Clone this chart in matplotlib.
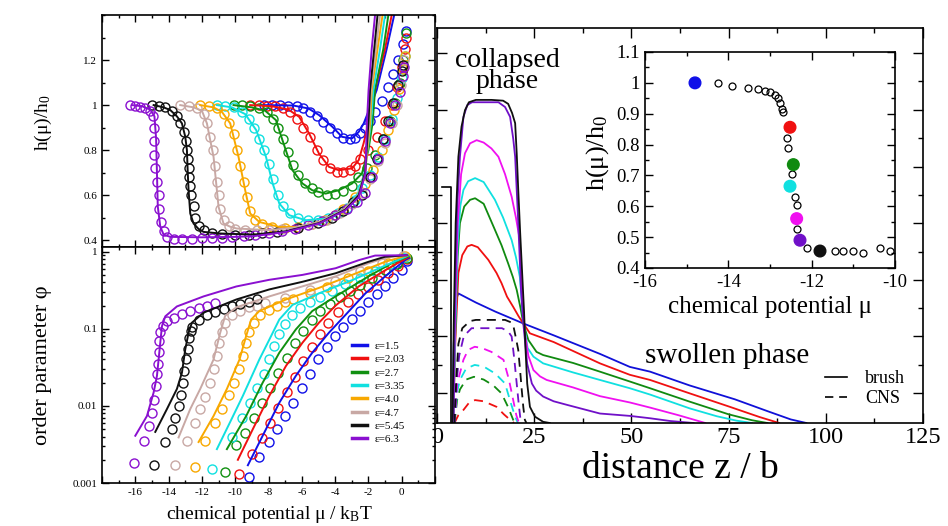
import numpy as np
import matplotlib
matplotlib.use("Agg")
import matplotlib.pyplot as plt
from matplotlib.lines import Line2D
from matplotlib.ticker import MultipleLocator, FixedLocator, FuncFormatter, LogLocator, NullFormatter

plt.rcParams['font.family'] = ['Liberation Serif', 'DejaVu Serif']
plt.rcParams['mathtext.fontset'] = 'custom'
plt.rcParams['mathtext.rm'] = 'Liberation Serif'
plt.rcParams['mathtext.it'] = 'Liberation Serif:italic'
plt.rcParams['axes.unicode_minus'] = False

# ---------------- data ----------------
eps_labels = ['ε=1.5', 'ε=2.03', 'ε=2.7', 'ε=3.35', 'ε=4.0', 'ε=4.7', 'ε=5.45', 'ε=6.3']
eps_colors = ['#1010e8', '#f01010', '#109010', '#10e0e0', '#f8a800', '#c8a8a4', '#101010', '#8a10d0']

# top-left panel: h(mu)/h0, theory lines
h_lines = [
    [(-8.3, 1.0), (-6.5, 0.998), (-5.6, 0.985), (-4.97, 0.956), (-4.17, 0.904), (-3.58, 0.859), (-2.98, 0.852),
     (-2.58, 0.881), (-2.28, 0.919), (-1.9, 0.99), (-1.5, 1.067), (-0.9, 1.25), (-0.45, 1.4)],
    [(-9.1, 1.0), (-7.8, 0.995), (-6.8, 0.98), (-6.16, 0.948), (-5.56, 0.874), (-4.97, 0.785), (-4.37, 0.726),
     (-3.78, 0.711), (-2.98, 0.719), (-2.58, 0.756), (-2.29, 0.83), (-1.9, 0.95), (-1.6, 1.067), (-1.0, 1.25), (-0.6, 1.4)],
    [(-10.1, 1.0), (-9.0, 0.99), (-8.2, 0.975), (-7.55, 0.933), (-7.16, 0.844), (-6.56, 0.711), (-5.96, 0.652),
     (-5.37, 0.622), (-4.57, 0.607), (-3.78, 0.622), (-2.98, 0.652), (-2.39, 0.696), (-2.0, 0.8), (-1.75, 0.92),
     (-1.6, 1.067), (-1.1, 1.25), (-0.8, 1.4)],
    [(-11.1, 1.0), (-10.2, 0.99), (-9.4, 0.96), (-8.74, 0.889), (-8.15, 0.77), (-7.75, 0.652), (-7.35, 0.563),
     (-6.75, 0.511), (-5.76, 0.489), (-4.57, 0.496), (-3.4, 0.54), (-2.6, 0.61), (-2.2, 0.71), (-1.85, 0.92),
     (-1.7, 1.067), (-1.3, 1.25), (-1.0, 1.4)],
    [(-12.1, 1.0), (-11.3, 0.99), (-10.8, 0.97), (-10.3, 0.919), (-9.8, 0.77), (-9.4, 0.622), (-9.1, 0.519),
     (-8.55, 0.481), (-7.35, 0.459), (-6.0, 0.46), (-4.5, 0.49), (-3.4, 0.54), (-2.6, 0.6), (-2.2, 0.7),
     (-1.9, 0.92), (-1.8, 1.067), (-1.45, 1.25), (-1.15, 1.4)],
    [(-13.3, 1.0), (-12.5, 0.99), (-12.0, 0.975), (-11.7, 0.919), (-11.3, 0.77), (-11.0, 0.548), (-10.7, 0.474),
     (-10.3, 0.46), (-9.9, 0.452), (-8.0, 0.445), (-6.5, 0.455), (-5.0, 0.48), (-3.5, 0.535), (-2.6, 0.6),
     (-2.2, 0.7), (-1.95, 0.92), (-1.85, 1.067), (-1.55, 1.25), (-1.3, 1.4)],
    [(-14.9, 1.0), (-14.3, 0.99), (-13.9, 0.978), (-13.5, 0.95), (-13.2, 0.919), (-13.0, 0.86), (-12.9, 0.8),
     (-12.85, 0.7), (-12.8, 0.622), (-12.7, 0.519), (-12.5, 0.474), (-12.2, 0.45), (-11.9, 0.437), (-10.9, 0.43),
     (-8.9, 0.425), (-6.95, 0.44), (-4.97, 0.476), (-3.38, 0.536), (-2.58, 0.6), (-2.2, 0.7), (-2.0, 0.92),
     (-1.9, 1.067), (-1.65, 1.25), (-1.45, 1.4)],
    [(-16.2, 1.0), (-15.6, 0.995), (-15.1, 0.98), (-14.85, 0.95), (-14.75, 0.85), (-14.7, 0.7), (-14.65, 0.55),
     (-14.5, 0.46), (-14.3, 0.425), (-13.9, 0.415), (-12.0, 0.413), (-10.0, 0.415), (-8.9, 0.418), (-6.95, 0.437),
     (-4.97, 0.474), (-3.38, 0.533), (-2.58, 0.592), (-2.18, 0.696), (-2.09, 0.92), (-1.99, 1.067), (-1.8, 1.25),
     (-1.6, 1.4)],
]

# top-left panel: simulation circles
h_points = [
    [(-8.3, 1.0), (-7.8, 1.0), (-7.3, 1.0), (-6.8, 0.998), (-6.3, 0.995), (-5.9, 0.985), (-5.5, 0.97), (-5.1, 0.95),
     (-4.7, 0.925), (-4.3, 0.9), (-3.9, 0.875), (-3.5, 0.855), (-3.1, 0.848), (-2.8, 0.855), (-2.5, 0.875),
     (-2.2, 0.9), (-1.9, 0.93), (-1.6, 0.97), (-1.2, 1.02), (-0.8, 1.08), (-0.5, 1.14), (-0.2, 1.2), (0.05, 1.27),
     (0.25, 1.33)],
    [(-9.1, 1.0), (-8.6, 1.0), (-8.1, 0.998), (-7.6, 0.995), (-7.1, 0.985), (-6.7, 0.97), (-6.3, 0.94), (-5.9, 0.9),
     (-5.5, 0.86), (-5.1, 0.8), (-4.7, 0.755), (-4.3, 0.72), (-3.9, 0.705), (-3.5, 0.703), (-3.1, 0.71),
     (-2.8, 0.73), (-2.5, 0.76), (-2.0, 0.8), (-1.5, 0.86), (-1.0, 0.93), (-0.6, 1.0), (-0.3, 1.08), (0.0, 1.17),
     (0.2, 1.25), (0.25, 1.3)],
    [(-10.1, 1.0), (-9.6, 1.0), (-9.1, 0.995), (-8.6, 0.985), (-8.1, 0.97), (-7.7, 0.94), (-7.4, 0.9), (-7.1, 0.85),
     (-6.8, 0.79), (-6.5, 0.735), (-6.2, 0.69), (-5.8, 0.655), (-5.4, 0.63), (-5.0, 0.612), (-4.5, 0.603),
     (-4.0, 0.605), (-3.5, 0.62), (-3.0, 0.64), (-2.6, 0.68), (-2.1, 0.72), (-1.6, 0.78), (-1.1, 0.85),
     (-0.7, 0.93), (-0.4, 1.01), (-0.1, 1.1), (0.1, 1.2), (0.25, 1.32)],
    [(-11.1, 1.0), (-10.6, 0.998), (-10.1, 0.99), (-9.6, 0.97), (-9.2, 0.94), (-8.9, 0.9), (-8.6, 0.85), (-8.3, 0.8),
     (-8.0, 0.74), (-7.7, 0.67), (-7.4, 0.6), (-7.1, 0.55), (-6.7, 0.52), (-6.2, 0.5), (-5.6, 0.49), (-5.0, 0.49),
     (-4.4, 0.5), (-3.8, 0.52), (-3.3, 0.545), (-2.8, 0.58), (-2.4, 0.63), (-1.9, 0.69), (-1.4, 0.77),
     (-1.0, 0.85), (-0.6, 0.94), (-0.3, 1.03), (0.0, 1.12), (0.2, 1.22)],
    [(-12.1, 1.0), (-11.6, 0.998), (-11.1, 0.985), (-10.7, 0.96), (-10.4, 0.92), (-10.1, 0.87), (-9.9, 0.8),
     (-9.7, 0.73), (-9.5, 0.66), (-9.3, 0.59), (-9.1, 0.53), (-8.8, 0.49), (-8.4, 0.47), (-7.8, 0.46), (-7.0, 0.455),
     (-6.2, 0.46), (-5.4, 0.47), (-4.6, 0.49), (-4.0, 0.51), (-3.5, 0.54), (-2.8, 0.59), (-2.2, 0.65),
     (-1.7, 0.71), (-1.2, 0.8), (-0.8, 0.89), (-0.45, 0.98), (-0.15, 1.07), (0.1, 1.16), (0.2, 1.22)],
    [(-13.3, 1.0), (-12.8, 0.995), (-12.3, 0.985), (-11.9, 0.96), (-11.7, 0.92), (-11.5, 0.86), (-11.35, 0.8),
     (-11.2, 0.73), (-11.1, 0.66), (-11.0, 0.6), (-10.9, 0.54), (-10.7, 0.49), (-10.4, 0.465), (-10.0, 0.452),
     (-9.4, 0.447), (-8.7, 0.445), (-8.0, 0.445), (-7.2, 0.448), (-6.3, 0.455), (-5.4, 0.47), (-4.5, 0.49),
     (-3.7, 0.52), (-3.0, 0.56), (-2.4, 0.61), (-1.9, 0.67), (-1.4, 0.75), (-1.0, 0.83), (-0.6, 0.92),
     (-0.3, 1.0), (-0.05, 1.09), (0.15, 1.2)],
    [(-15.0, 1.0), (-14.6, 0.995), (-14.2, 0.99), (-13.8, 0.975), (-13.5, 0.95), (-13.3, 0.92), (-13.1, 0.88),
     (-12.95, 0.84), (-12.9, 0.8), (-12.85, 0.76), (-12.8, 0.72), (-12.75, 0.68), (-12.7, 0.64), (-12.65, 0.6),
     (-12.5, 0.55), (-12.4, 0.5), (-12.2, 0.465), (-11.9, 0.445), (-11.4, 0.432), (-10.8, 0.428), (-10.0, 0.425),
     (-9.2, 0.425), (-8.4, 0.43), (-7.5, 0.437), (-6.2, 0.455), (-5.0, 0.475), (-4.2, 0.5), (-3.5, 0.53),
     (-2.9, 0.57), (-2.4, 0.6), (-1.9, 0.68), (-1.5, 0.76), (-1.1, 0.85), (-0.8, 0.93), (-0.5, 1.01),
     (-0.25, 1.09), (0.0, 1.15), (0.1, 1.18)],
    [(-16.3, 1.0), (-16.0, 0.995), (-15.7, 0.99), (-15.4, 0.985), (-15.1, 0.975), (-14.95, 0.95), (-14.9, 0.9),
     (-14.85, 0.84), (-14.85, 0.78), (-14.8, 0.72), (-14.7, 0.66), (-14.6, 0.6), (-14.55, 0.54), (-14.45, 0.48),
     (-14.3, 0.44), (-14.1, 0.415), (-13.7, 0.405), (-13.2, 0.405), (-12.6, 0.405), (-12.0, 0.408), (-11.4, 0.41),
     (-10.8, 0.412), (-10.2, 0.415), (-9.5, 0.42), (-8.8, 0.425), (-8.0, 0.432), (-7.2, 0.44), (-6.4, 0.452),
     (-5.6, 0.467), (-4.8, 0.485), (-4.0, 0.51), (-3.3, 0.54), (-2.7, 0.57), (-2.2, 0.61), (-1.79, 0.68),
     (-1.4, 0.76), (-1.0, 0.84), (-0.7, 0.92), (-0.4, 1.0), (-0.1, 1.06), (0.1, 1.13), (0.15, 1.17)],
]

# bottom-left panel: order parameter phi, theory lines
phi_lines = [
    [(-9.24, 0.0017), (-8.35, 0.0041), (-7.35, 0.011), (-6.36, 0.0245), (-5.37, 0.049), (-4.37, 0.089),
     (-3.38, 0.151), (-2.18, 0.288), (-0.99, 0.479), (0.2, 0.776), (0.45, 0.83)],
    [(-9.84, 0.002), (-8.94, 0.005), (-7.95, 0.0135), (-6.95, 0.033), (-5.96, 0.066), (-4.97, 0.12), (-3.97, 0.2),
     (-2.58, 0.355), (-0.99, 0.575), (0.4, 0.85)],
    [(-10.5, 0.00275), (-9.34, 0.0074), (-8.35, 0.02), (-7.35, 0.049), (-6.36, 0.098), (-5.37, 0.17),
     (-3.97, 0.263), (-1.99, 0.479), (-0.6, 0.708), (0.4, 0.87)],
    [(-11.1, 0.00275), (-10.3, 0.0062), (-9.54, 0.0135), (-8.55, 0.04), (-7.95, 0.0724), (-7.35, 0.132),
     (-6.56, 0.204), (-4.97, 0.288), (-2.98, 0.427), (-0.99, 0.66), (0.35, 0.88)],
    [(-12.2, 0.0034), (-11.3, 0.0074), (-10.5, 0.0166), (-9.74, 0.04), (-9.34, 0.081), (-9.04, 0.132),
     (-8.55, 0.17), (-6.95, 0.24), (-4.97, 0.339), (-2.98, 0.5), (-0.99, 0.74), (0.3, 0.89)],
    [(-13.4, 0.0039), (-12.7, 0.0091), (-12.1, 0.0166), (-11.3, 0.04), (-10.9, 0.089), (-10.6, 0.148),
     (-9.93, 0.19), (-7.95, 0.263), (-5.96, 0.355), (-3.97, 0.479), (-1.99, 0.708), (-0.8, 0.85), (0.3, 0.9)],
    [(-14.8, 0.0046), (-14.1, 0.0091), (-13.5, 0.0166), (-13.2, 0.0269), (-13.0, 0.054), (-12.8, 0.089),
     (-12.6, 0.12), (-11.9, 0.162), (-9.93, 0.24), (-7.95, 0.324), (-5.96, 0.407), (-3.97, 0.525),
     (-1.99, 0.74), (-1.0, 0.86), (0.3, 0.9)],
    [(-16.0, 0.0041), (-15.3, 0.0074), (-14.9, 0.0149), (-14.7, 0.0245), (-14.6, 0.04), (-14.5, 0.066),
     (-14.4, 0.108), (-14.2, 0.145), (-13.5, 0.195), (-11.9, 0.263), (-9.93, 0.354), (-7.95, 0.432),
     (-5.96, 0.5), (-3.97, 0.61), (-2.58, 0.776), (-1.6, 0.89), (0.3, 0.9)],
]

# bottom-left panel: simulation circles
phi_points = [
    [(-9.2, 0.0012), (-8.6, 0.0022), (-8.0, 0.0034), (-7.5, 0.005), (-7.0, 0.0075), (-6.5, 0.011), (-6.0, 0.017),
     (-5.5, 0.026), (-5.0, 0.04), (-4.5, 0.058), (-4.0, 0.08), (-3.5, 0.105), (-3.0, 0.135), (-2.5, 0.17),
     (-2.0, 0.22), (-1.5, 0.28), (-1.0, 0.36), (-0.5, 0.45), (0.0, 0.58), (0.3, 0.75)],
    [(-9.8, 0.0013), (-9.0, 0.0024), (-8.4, 0.0038), (-7.9, 0.006), (-7.4, 0.0095), (-6.9, 0.015), (-6.4, 0.024),
     (-5.9, 0.038), (-5.4, 0.058), (-4.9, 0.085), (-4.4, 0.12), (-3.8, 0.165), (-3.2, 0.22), (-2.6, 0.28),
     (-2.0, 0.35), (-1.4, 0.43), (-0.8, 0.53), (-0.2, 0.66), (0.3, 0.8)],
    [(-10.6, 0.0014), (-9.93, 0.0031), (-9.4, 0.0045), (-8.9, 0.007), (-8.4, 0.011), (-7.9, 0.017), (-7.4, 0.027),
     (-6.9, 0.042), (-6.4, 0.065), (-5.9, 0.095), (-5.4, 0.13), (-4.9, 0.17), (-4.3, 0.21), (-3.7, 0.26),
     (-3.1, 0.31), (-2.5, 0.37), (-1.8, 0.46), (-1.0, 0.58), (-0.3, 0.7), (0.3, 0.84)],
    [(-11.4, 0.0015), (-10.2, 0.004), (-9.6, 0.007), (-9.1, 0.011), (-8.7, 0.017), (-8.3, 0.026), (-7.95, 0.04),
     (-7.65, 0.06), (-7.35, 0.085), (-7.0, 0.115), (-6.6, 0.15), (-6.1, 0.185), (-5.5, 0.22), (-4.9, 0.26),
     (-4.2, 0.31), (-3.4, 0.38), (-2.5, 0.46), (-1.6, 0.57), (-0.7, 0.7), (0.2, 0.85)],
    [(-12.4, 0.0016), (-11.8, 0.0035), (-11.2, 0.006), (-10.8, 0.009), (-10.4, 0.014), (-10.1, 0.02), (-9.8, 0.03),
     (-9.55, 0.045), (-9.35, 0.065), (-9.15, 0.09), (-8.9, 0.12), (-8.5, 0.15), (-8.0, 0.175), (-7.5, 0.2),
     (-7.0, 0.22), (-6.5, 0.24), (-5.5, 0.29), (-4.5, 0.35), (-3.2, 0.45), (-2.0, 0.57), (-0.8, 0.72), (0.2, 0.87)],
    [(-13.6, 0.0017), (-12.9, 0.0035), (-12.4, 0.006), (-12.1, 0.009), (-11.8, 0.013), (-11.5, 0.02), (-11.3, 0.03),
     (-11.1, 0.045), (-10.95, 0.065), (-10.8, 0.09), (-10.6, 0.12), (-10.2, 0.15), (-9.7, 0.17), (-9.2, 0.19),
     (-8.7, 0.2), (-8.2, 0.215), (-7.0, 0.25), (-5.5, 0.32), (-4.0, 0.42), (-2.5, 0.56), (-1.2, 0.72), (0.1, 0.88)],
    [(-14.9, 0.0017), (-14.2, 0.0034), (-13.8, 0.005), (-13.6, 0.007), (-13.4, 0.01), (-13.25, 0.014),
     (-13.15, 0.02), (-13.05, 0.028), (-12.95, 0.04), (-12.85, 0.055), (-12.75, 0.075), (-12.65, 0.095),
     (-12.6, 0.105), (-12.2, 0.13), (-11.7, 0.15), (-11.2, 0.165), (-10.7, 0.18), (-10.2, 0.195), (-9.7, 0.21),
     (-9.2, 0.225), (-8.7, 0.24)],
    [(-16.1, 0.0018), (-15.5, 0.0035), (-15.2, 0.0055), (-15.0, 0.008), (-14.85, 0.012), (-14.75, 0.018),
     (-14.7, 0.026), (-14.65, 0.035), (-14.6, 0.05), (-14.55, 0.07), (-14.5, 0.09), (-14.35, 0.11),
     (-14.1, 0.125), (-13.7, 0.14), (-13.2, 0.155), (-12.7, 0.17), (-12.2, 0.185), (-11.7, 0.2), (-11.2, 0.215)],
]

# right panel: density profiles vs distance z (relative units)
profile_colors = ['#1010d8', '#f01010', '#108a10', '#10e0e0', '#f010f0', '#7010c8', '#101010']
brush_profiles = [
    [(4.0, 0.0), (4.3, 0.2), (4.8, 0.31), (5.5, 0.328), (10, 0.305), (15, 0.282), (22.2, 0.252), (30, 0.222),
     (41.9, 0.175), (49.6, 0.142), (54.8, 0.13), (65, 0.095), (76.6, 0.06), (85, 0.03), (91, 0.009), (95, 0.0)],
    [(4.2, 0.0), (4.6, 0.18), (5.5, 0.38), (6.5, 0.425), (7.8, 0.447), (8.9, 0.451), (10.5, 0.445), (13.2, 0.413),
     (15.3, 0.38), (16.6, 0.354), (18, 0.32), (19.6, 0.294), (21, 0.27), (22.2, 0.252), (23.9, 0.227),
     (30, 0.205), (41.9, 0.151), (49.6, 0.122), (54.8, 0.109), (65, 0.075), (75, 0.042), (83, 0.015), (88, 0.0)],
    [(4.2, 0.0), (4.6, 0.2), (5.3, 0.42), (5.9, 0.506), (7, 0.548), (8.5, 0.565), (9.8, 0.569), (12, 0.555),
     (14.9, 0.489), (16.6, 0.45), (18.3, 0.404), (19.5, 0.37), (20.5, 0.337), (21.5, 0.29), (22.2, 0.252),
     (23.5, 0.21), (25.6, 0.18), (27.3, 0.172), (35, 0.152), (41.9, 0.13), (49.6, 0.105), (54.8, 0.088),
     (65, 0.054), (75, 0.022), (81, 0.007), (85, 0.0)],
    [(4.2, 0.0), (4.6, 0.2), (5.3, 0.45), (6.0, 0.55), (6.8, 0.59), (8, 0.612), (9.8, 0.62), (12, 0.61),
     (14.9, 0.565), (17, 0.52), (19.2, 0.463), (20.3, 0.42), (21.3, 0.37), (22.2, 0.26), (23.3, 0.19),
     (24.8, 0.168), (27.3, 0.151), (35, 0.128), (41.9, 0.109), (49.6, 0.088), (54.8, 0.072), (65, 0.037),
     (72, 0.017), (77, 0.006), (81, 0.0)],
    [(4.2, 0.0), (4.6, 0.25), (5.3, 0.5), (6.2, 0.63), (7.2, 0.683), (8.5, 0.708), (10.2, 0.716), (12, 0.71),
     (14, 0.695), (15.8, 0.674), (17.5, 0.63), (19.2, 0.573), (20.3, 0.52), (21.3, 0.463), (21.9, 0.33),
     (22.4, 0.24), (23.5, 0.17), (24.8, 0.134), (26.5, 0.118), (28.2, 0.109), (35, 0.09), (41.9, 0.068),
     (49.6, 0.052), (54.8, 0.039), (62, 0.02), (69, 0.0)],
    [(4.2, 0.0), (4.6, 0.3), (5.2, 0.55), (5.9, 0.674), (6.8, 0.775), (7.8, 0.805), (9, 0.812), (15.8, 0.812),
     (17.5, 0.8), (18.8, 0.775), (19.6, 0.72), (20.1, 0.674), (20.9, 0.506), (21.6, 0.337), (22.2, 0.252),
     (23.2, 0.15), (24.4, 0.1), (25.5, 0.082), (27.3, 0.067), (30, 0.055), (33.4, 0.046), (41.9, 0.024),
     (49.6, 0.018), (54.8, 0.012), (60, 0.005), (66, 0.0)],
    [(4.0, 0.0), (4.3, 0.25), (4.8, 0.506), (5.5, 0.674), (6.3, 0.75), (7.2, 0.792), (8.2, 0.812), (10, 0.818),
     (14, 0.818), (17, 0.816), (18.3, 0.808), (19.3, 0.785), (20.1, 0.759), (20.5, 0.683), (20.9, 0.59),
     (21.4, 0.48), (21.8, 0.4), (22.4, 0.28), (22.8, 0.18), (23.2, 0.1), (23.9, 0.041), (25.2, 0.016),
     (27.3, 0.003), (29, 0.0)],
]
cns_colors = ['#f01010', '#108a10', '#10e0e0', '#f010f0', '#7010c8', '#101010']
cns_profiles = [
    [(4.5, 0.0), (5.5, 0.02), (6.8, 0.033), (8.3, 0.052), (9.8, 0.058), (12, 0.055), (15.3, 0.041), (17.2, 0.022),
     (18.8, 0.008), (19.8, 0.0)],
    [(4.5, 0.0), (5.2, 0.06), (5.9, 0.085), (7.5, 0.11), (9.5, 0.117), (12, 0.11), (14.5, 0.095), (16.6, 0.075),
     (18.3, 0.04), (19.6, 0.008), (20.2, 0.0)],
    [(4.5, 0.0), (5.2, 0.08), (5.9, 0.109), (7.5, 0.138), (9.7, 0.147), (12, 0.143), (15, 0.125), (17.5, 0.1),
     (19, 0.05), (20.1, 0.016), (20.8, 0.0)],
    [(4.5, 0.0), (5.2, 0.1), (6.8, 0.16), (8, 0.185), (9.7, 0.193), (11.5, 0.19), (14, 0.18), (17.1, 0.16),
     (18.5, 0.11), (19.6, 0.058), (20.4, 0.02), (20.9, 0.005), (21.3, 0.0)],
    [(4.5, 0.0), (5.0, 0.1), (5.7, 0.17), (6.9, 0.22), (8.9, 0.24), (16.7, 0.24), (18.3, 0.232), (19.2, 0.219),
     (19.9, 0.16), (20.5, 0.1), (21, 0.05), (21.4, 0.015), (21.8, 0.0)],
    [(4.5, 0.0), (5.0, 0.12), (5.5, 0.2), (6.5, 0.24), (8.5, 0.258), (10, 0.261), (17.5, 0.261), (19, 0.255),
     (19.6, 0.248), (20.3, 0.215), (20.9, 0.185), (21.4, 0.13), (21.8, 0.0835), (22.2, 0.04), (22.6, 0.008),
     (23, 0.0)],
]
wall_marker = [(1.2, 0.598), (3.7, 0.598), (3.7, 0.0)]

# inset: h(mu)/h0 vs mu
inset_open_mu = [-14.24, -13.92, -13.52, -13.28, -13.12, -13.0, -12.88, -12.8, -12.76, -12.72, -12.68,
                 -12.6, -12.56, -12.48, -12.4, -12.34, -12.36, -12.12, -11.44, -11.24, -11.0, -10.76, -10.36, -10.12]
inset_open_h = [0.998, 0.99, 0.983, 0.98, 0.975, 0.97, 0.96, 0.95, 0.935, 0.915, 0.905,
                0.82, 0.79, 0.705, 0.63, 0.605, 0.525, 0.465, 0.455, 0.455, 0.455, 0.45, 0.465, 0.455]
inset_filled_mu = [-14.8, -12.52, -12.44, -12.52, -12.36, -12.28, -11.8]
inset_filled_h = [1.0, 0.856, 0.735, 0.665, 0.56, 0.49, 0.455]
inset_filled_colors = ['#1010e8', '#f01010', '#108a10', '#10e0e0', '#f010f0', '#7010c8', '#101010']

# ---------------- figure ----------------
W, H = 948, 526
fig = plt.figure(figsize=(W / 100, H / 100), dpi=100)


def px_rect(x0, y0, x1, y1):
    return [x0 / W, 1 - y1 / H, (x1 - x0) / W, (y1 - y0) / H]


def px_text(x, y, s, **kw):
    fig.text(x / W, 1 - y / H, s, **kw)


# right panel
ax_r = fig.add_axes(px_rect(437, 28, 923, 423))
for pts, c in zip(brush_profiles, profile_colors):
    z, rho = np.array(pts).T
    ax_r.plot(z, rho, color=c, lw=1.3)
for pts, c in zip(cns_profiles, cns_colors):
    z, rho = np.array(pts).T
    ax_r.plot(z, rho, color=c, lw=1.3, ls=(0, (5, 3.5)))
wz, wr = np.array(wall_marker).T
ax_r.plot(wz, wr, color='black', lw=1.2)
ax_r.set_xlim(0, 125)
ax_r.set_ylim(0, 1)
ax_r.xaxis.set_major_locator(MultipleLocator(25))
ax_r.xaxis.set_minor_locator(MultipleLocator(12.5))
ax_r.yaxis.set_major_locator(FixedLocator([0.075, 0.219, 0.362, 0.506, 0.649, 0.793, 0.936]))
ax_r.yaxis.set_minor_locator(FixedLocator([0.147, 0.29, 0.434, 0.578, 0.721, 0.865]))
ax_r.tick_params(which='both', direction='in', top=True, right=True, width=1.0)
ax_r.tick_params(which='major', length=7, labelsize=17.5, pad=3)
ax_r.tick_params(which='minor', length=3.5)
ax_r.tick_params(axis='y', labelleft=False)
for s in ax_r.spines.values():
    s.set_linewidth(1.2)
ax_r.legend(handles=[Line2D([], [], color='black', lw=1.2),
                     Line2D([], [], color='black', lw=1.2, ls=(0, (5, 3.5)))],
            labels=['brush', 'CNS'], loc='center left', bbox_to_anchor=(0.78, 0.087),
            frameon=False, fontsize=13, handlelength=1.2, handletextpad=1.0, labelspacing=0.15,
            borderpad=0)

px_text(507, 48, 'collapsed\nphase', fontsize=20, ha='center', va='top',
        multialignment='center', linespacing=0.8)
px_text(727, 363, 'swollen phase', fontsize=21, ha='center', va='baseline')
px_text(680, 478, 'distance z / b', fontsize=27, ha='center', va='baseline')

# inset
ax_in = fig.add_axes(px_rect(645, 52, 895, 268))
ax_in.plot(inset_open_mu, inset_open_h, ls='none', marker='o', ms=5, mfc='none', mec='black', mew=0.9)
ax_in.scatter(inset_filled_mu, inset_filled_h, s=70, c=inset_filled_colors, zorder=3)
ax_in.set_xlim(-16, -10)
ax_in.set_ylim(0.4, 1.1)
ax_in.xaxis.set_major_locator(MultipleLocator(2))
ax_in.xaxis.set_minor_locator(MultipleLocator(1))
ax_in.yaxis.set_major_locator(MultipleLocator(0.1))
ax_in.yaxis.set_minor_locator(MultipleLocator(0.05))
ax_in.yaxis.set_major_formatter(FuncFormatter(lambda v, p: '%g' % round(v, 2)))
ax_in.tick_params(which='both', direction='in', top=True, right=True, width=1.0)
ax_in.tick_params(which='major', length=6, labelsize=13.5, pad=4)
ax_in.tick_params(which='minor', length=3)
for s in ax_in.spines.values():
    s.set_linewidth(1.2)
px_text(770, 313, 'chemical potential μ', fontsize=18, ha='center', va='baseline')
px_text(598, 153, 'h(μ)/h$_0$', fontsize=19, ha='center', va='center', rotation=90)

# top-left panel
ax_t = fig.add_axes(px_rect(102, 15, 435, 247))
for pts, c in zip(h_points, eps_colors):
    m, h = np.array(pts).T
    ax_t.plot(m, h, ls='none', marker='o', ms=6.5, mfc='none', mec=c, mew=1.0)
for pts, c in zip(h_lines, eps_colors):
    m, h = np.array(pts).T
    ax_t.plot(m, h, color=c, lw=1.4)
ax_t.set_xlim(-18, 2)
ax_t.set_ylim(0.37, 1.4)
ax_t.xaxis.set_major_locator(MultipleLocator(2))
ax_t.xaxis.set_minor_locator(MultipleLocator(1))
ax_t.yaxis.set_major_locator(FixedLocator([0.4, 0.6, 0.8, 1.0, 1.2]))
ax_t.yaxis.set_minor_locator(MultipleLocator(0.1))
ax_t.yaxis.set_major_formatter(FuncFormatter(lambda v, p: '%g' % round(v, 2)))
ax_t.tick_params(which='both', direction='in', top=True, right=True, width=1.0)
ax_t.tick_params(which='major', length=5, labelsize=8)
ax_t.tick_params(which='minor', length=2.5)
ax_t.tick_params(axis='x', labelbottom=False)
for s in ax_t.spines.values():
    s.set_linewidth(1.2)
px_text(43, 123, 'h(μ)/h$_0$', fontsize=14, ha='center', va='center', rotation=90)

# bottom-left panel
ax_b = fig.add_axes(px_rect(102, 247, 435, 483))
for pts, c in zip(phi_points, eps_colors):
    m, p = np.array(pts).T
    ax_b.plot(m, p, ls='none', marker='o', ms=6.5, mfc='none', mec=c, mew=1.0)
for pts, c in zip(phi_lines, eps_colors):
    m, p = np.array(pts).T
    ax_b.plot(m, p, color=c, lw=1.4)
ax_b.set_yscale('log')
ax_b.set_xlim(-18, 2)
ax_b.set_ylim(0.001, 1.15)
ax_b.xaxis.set_major_locator(MultipleLocator(2))
ax_b.xaxis.set_minor_locator(MultipleLocator(1))
ax_b.xaxis.set_major_formatter(FuncFormatter(lambda v, p: '' if v < -17 or v > 1 else '%d' % v))
ax_b.yaxis.set_major_locator(LogLocator(base=10))
ax_b.yaxis.set_minor_locator(LogLocator(base=10, subs=np.arange(2, 10)))
ax_b.yaxis.set_minor_formatter(NullFormatter())
ax_b.yaxis.set_major_formatter(FuncFormatter(lambda v, p: '%g' % v))
ax_b.tick_params(which='both', direction='in', top=True, right=True, width=1.0)
ax_b.tick_params(which='major', length=5, labelsize=8)
ax_b.tick_params(which='minor', length=2.5)
for s in ax_b.spines.values():
    s.set_linewidth(1.2)
ax_b.legend(handles=[Line2D([], [], color=c, lw=2.5) for c in eps_colors], labels=eps_labels,
            loc='upper left', bbox_to_anchor=(0.735, 0.625), frameon=False, fontsize=8,
            handlelength=1.3, handletextpad=0.7, labelspacing=0.32, borderpad=0)
px_text(43, 365, 'order parameter φ', fontsize=16, ha='center', va='center', rotation=90)
px_text(270, 519, 'chemical potential μ / k$_\\mathregular{B}$T', fontsize=14, ha='center', va='baseline')

fig.savefig('out.png', dpi=100)
plt.close(fig)
